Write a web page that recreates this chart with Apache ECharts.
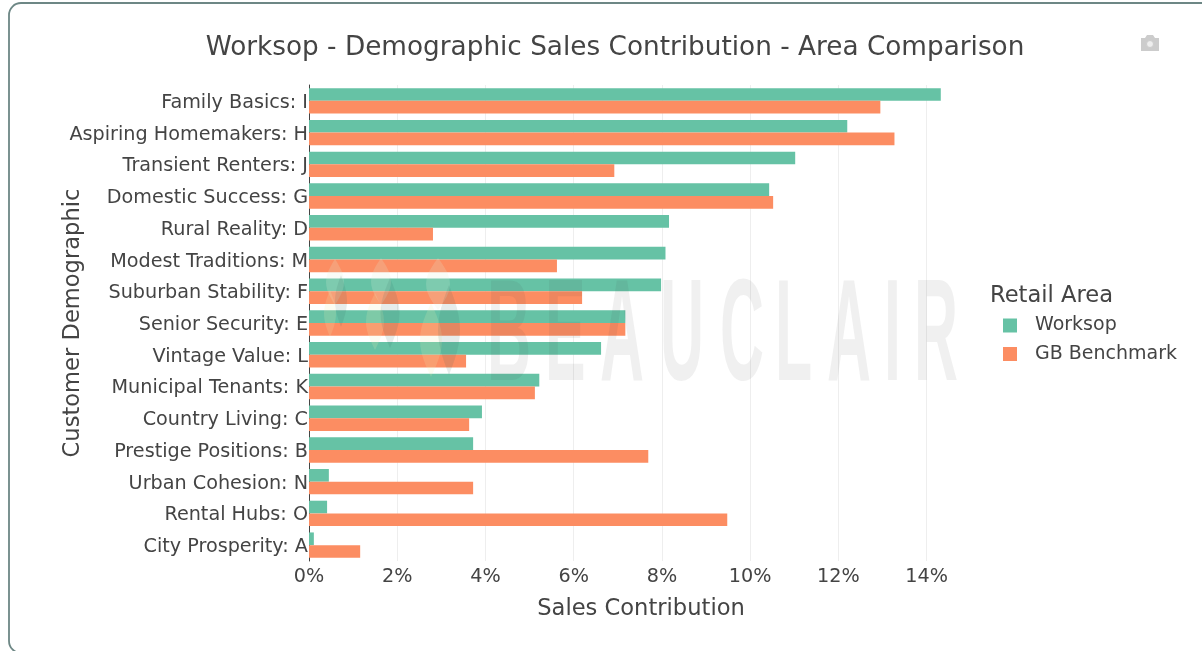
<!DOCTYPE html>
<html>
<head>
<meta charset="utf-8">
<title>Worksop - Demographic Sales Contribution</title>
<script src="https://cdn.jsdelivr.net/npm/echarts@6/dist/echarts.min.js"></script>
<style>
    html, body { margin: 0; padding: 0; background: #fff; overflow: hidden; }
    #chart { width: 1202px; height: 651px; }
</style>
</head>
<body>
<div id="chart"></div>
<script>
// top bar first, axis is inverted
const categories = ['Family Basics: I', 'Aspiring Homemakers: H', 'Transient Renters: J', 'Domestic Success: G', 'Rural Reality: D', 'Modest Traditions: M', 'Suburban Stability: F', 'Senior Security: E', 'Vintage Value: L', 'Municipal Tenants: K', 'Country Living: C', 'Prestige Positions: B', 'Urban Cohesion: N', 'Rental Hubs: O', 'City Prosperity: A']
const worksop = [14.32, 12.2, 11.02, 10.43, 8.16, 8.08, 7.98, 7.17, 6.62, 5.22, 3.92, 3.72, 0.45, 0.41, 0.11]
const benchmark = [12.95, 13.27, 6.92, 10.52, 2.81, 5.62, 6.19, 7.17, 3.56, 5.12, 3.63, 7.69, 3.72, 9.48, 1.16]

const font = '"DejaVu Sans"'
const textColor = '#444'

// logo leaf of the watermark
function leaf(cx, y0, y1, rx, fill) {
    const points = []
    const n = 12
    for (let i = 0; i <= n; i++) {
        points.push([cx + rx * Math.sin(Math.PI * i / n), y0 + (y1 - y0) * i / n])
    }
    for (let i = n - 1; i > 0; i--) {
        points.push([cx - rx * Math.sin(Math.PI * i / n), y0 + (y1 - y0) * i / n])
    }
    return { type: 'polygon', z: 20, silent: true, shape: { points: points }, style: { fill: fill } }
}
const palegreen = 'rgba(225,240,215,0.2)'
const paleyellow = 'rgba(240,240,180,0.18)'
const darkleaf = 'rgba(50,100,90,0.12)'

// watermark letters are spaced out by hand, echarts has no letter spacing
function letter(ch, x) {
    return { type: 'text', z: 20, silent: true, x: x, y: 268, scaleX: 0.42, style: { text: ch, font: 'bold 145px "Liberation Sans"', fill: 'rgba(60,60,60,0.08)' } }
}

const chart = echarts.init(document.getElementById('chart'), null, { renderer: 'canvas' })
const option = {
    animation: false,
    textStyle: { fontFamily: font },
    color: ['#66c2a5', '#fc8d62'],
    title: {
        text: 'Worksop - Demographic Sales Contribution - Area Comparison',
        left: 610,
        top: 30,
        textAlign: 'center',
        textStyle: { fontFamily: font, fontSize: 26.3, fontWeight: 'normal', color: textColor }
    },
    legend: {
        left: 998,
        top: 311,
        orient: 'vertical',
        itemWidth: 14,
        itemHeight: 14,
        itemGap: 9.5,
        icon: 'rect',
        textStyle: { fontFamily: font, fontSize: 19, color: textColor, padding: [0, 0, 0, 13] }
    },
    grid: { left: 309, top: 85, width: 664, height: 476 },
    xAxis: {
        type: 'value',
        min: 0,
        max: 15.05,
        interval: 2,
        name: 'Sales Contribution',
        nameLocation: 'middle',
        nameGap: 37,
        nameMoveOverlap: false,
        nameTextStyle: { fontSize: 22.6, color: textColor },
        axisLine: { show: false },
        axisTick: { show: false },
        axisLabel: { formatter: '{value}%', fontSize: 19.2, color: textColor, margin: 7, showMaxLabel: false },
        splitLine: { showMaxLine: false, lineStyle: { color: '#eee', width: 1 } }
    },
    yAxis: {
        type: 'category',
        inverse: true,
        data: categories,
        name: 'Customer Demographic',
        nameLocation: 'middle',
        nameGap: 224,
        nameMoveOverlap: false,
        nameTextStyle: { fontSize: 22.6, color: textColor },
        axisLine: { lineStyle: { color: '#444', width: 1 } },
        axisTick: { show: false },
        axisLabel: {
            margin: 1,
            interval: 0,
            formatter: '{a|{value}}',
            rich: { a: { fontFamily: font, fontSize: 19.2, color: textColor, padding: [4, 0, 0, 0] } }
        }
    },
    series: [
        { name: 'Worksop', type: 'bar', data: worksop, barWidth: '40%', barGap: 0 },
        { name: 'GB Benchmark', type: 'bar', data: benchmark, barWidth: '40%', barGap: 0 }
    ],
    graphic: [
        // card border, runs off the right edge
        { type: 'rect', z: -10, silent: true, shape: { x: 9, y: 3, width: 1300, height: 650, r: 12 }, style: { fill: '#fff', stroke: '#6d8785', lineWidth: 1.8 } },
        { type: 'text', x: 990, y: 285, style: { text: 'Retail Area', font: '22.6px "DejaVu Sans"', fill: textColor } },
        // watermark
        letter('B', 487), letter('E', 545), letter('A', 600), letter('U', 660), letter('C', 720),
        letter('L', 775), letter('A', 827), letter('I', 884), letter('R', 914),
        leaf(335, 259, 305, 9, palegreen),
        leaf(330, 290, 337, 6, paleyellow),
        leaf(341, 275, 327, 6, darkleaf),
        leaf(381, 258, 305, 10, palegreen),
        leaf(375, 293, 350, 9, paleyellow),
        leaf(390, 278, 348, 9.5, darkleaf),
        leaf(438, 258, 310, 12, palegreen),
        leaf(431, 303, 377, 11, paleyellow),
        leaf(449, 285, 375, 11, darkleaf),
        // camera icon
        { type: 'polygon', z: 20, silent: true, shape: { points: [[1141, 38], [1145, 38], [1147, 35], [1153, 35], [1155, 38], [1159, 38], [1159, 51], [1141, 51]] }, style: { fill: '#ccc' } },
        { type: 'circle', z: 21, silent: true, shape: { cx: 1150, cy: 44, r: 3.5 }, style: { fill: '#eee', stroke: '#ccc', lineWidth: 1 } }
    ]
}
chart.setOption(option)
window.addEventListener('resize', () => {
    chart.resize()
})
</script>
</body>
</html>
